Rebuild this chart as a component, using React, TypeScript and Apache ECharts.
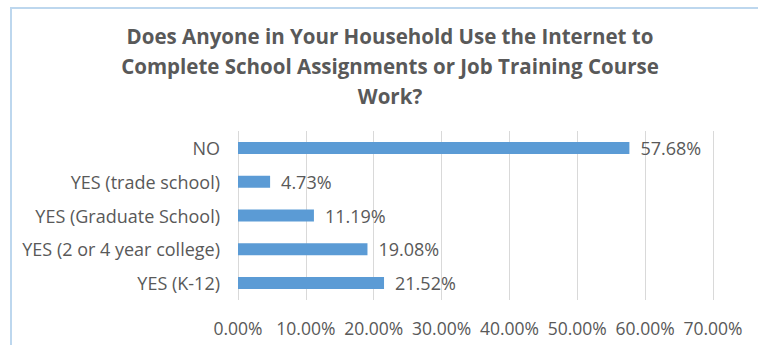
import React, { useEffect, useRef } from "react";
import * as echarts from "echarts";

const categories = [
  "YES (K-12)",
  "YES (2 or 4 year college)",
  "YES (Graduate School)",
  "YES (trade school)",
  "NO",
];
const values = [21.52, 19.08, 11.19, 4.73, 57.68];
const titleText =
  "Does Anyone in Your Household Use the Internet to\nComplete School Assignments or Job Training Course\nWork?";

const FONT = "'Open Sans', 'Noto Sans', sans-serif";
const TEXT = "#595959";

export default function App() {
  const ref = useRef<HTMLDivElement>(null);
  useEffect(() => {
    if (!ref.current) return;
    const chart = echarts.init(ref.current, null, { renderer: "svg" });
    chart.setOption({
      animation: false,
      backgroundColor: "#ffffff",
      textStyle: { fontFamily: FONT },
      graphic: [
        {
          type: "rect",
          shape: { x: 11, y: 8, width: 900, height: 500 },
          style: { fill: "none", stroke: "#BDD7EE", lineWidth: 2 },
          silent: true,
        },
      ],
      title: {
        text: titleText,
        left: 385,
        top: 16,
        textAlign: "center",
        textStyle: {
          fontFamily: FONT,
          fontSize: 20.5,
          fontWeight: "bold",
          color: TEXT,
          lineHeight: 30,
        },
      },
      grid: { left: 238, right: 45, top: 131, height: 169, containLabel: false },
      xAxis: {
        type: "value",
        min: 0,
        max: 70,
        interval: 10,
        axisLine: { show: false },
        axisTick: { show: false },
        splitLine: { show: true, lineStyle: { color: "#D9D9D9", width: 1 } },
        axisLabel: {
          margin: 19,
          color: TEXT,
          fontFamily: FONT,
          fontSize: 17.5,
          formatter: (v: number) => v.toFixed(2) + "%",
        },
      },
      yAxis: {
        type: "category",
        data: categories,
        axisLine: { show: false },
        axisTick: { show: false },
        axisLabel: {
          margin: 18,
          color: TEXT,
          fontFamily: FONT,
          fontSize: 18,
        },
      },
      series: [
        {
          type: "bar",
          data: values,
          barWidth: 12,
          itemStyle: { color: "#5B9BD5" },
          label: {
            show: true,
            position: "right",
            distance: 11,
            color: TEXT,
            fontFamily: FONT,
            fontSize: 18,
            formatter: (p: any) => p.value.toFixed(2) + "%",
          },
        },
      ],
    });
    return () => chart.dispose();
  }, []);
  return (
    <div
      ref={ref}
      style={{ position: "fixed", left: 0, top: 0, width: 758, height: 345 }}
    />
  );
}
